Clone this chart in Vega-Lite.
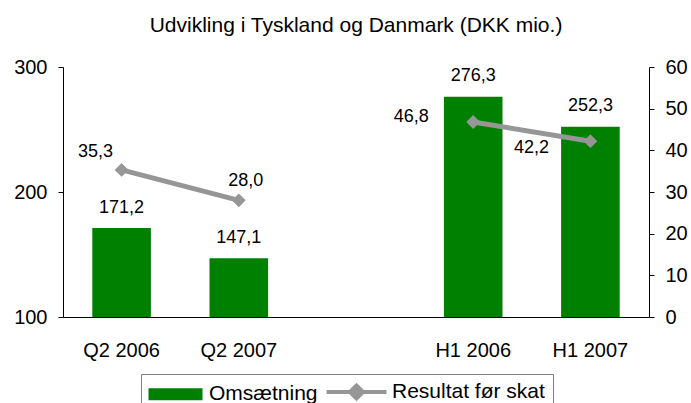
{
  "$schema": "https://vega.github.io/schema/vega-lite/v6.json",
  "width": 586,
  "height": 250,
  "autosize": {"type": "none"},
  "padding": {"left": 63, "top": 67, "right": 42, "bottom": 86},
  "config": {
    "font": "Liberation Sans",
    "view": {"stroke": null},
    "locale": {"number": {"decimal": ",", "thousands": ".", "grouping": [3], "currency": ["", " kr."]}},
    "axis": {"domainColor": "#000", "tickColor": "#000", "labelColor": "#000", "labelFontSize": 20, "grid": false, "title": null, "tickSize": 5, "labelPadding": 11, "domainWidth": 1, "tickWidth": 1}
  },
  "title": {"text": "Udvikling i Tyskland og Danmark (DKK mio.)", "fontSize": 21, "fontWeight": "normal", "color": "#000", "anchor": "middle", "offset": 4, "baseline": "alphabetic"},
  "data": {"values": [
    {"periode": "Q2 2006", "gruppe": "Q2", "omsaetning": 171.2, "resultat": 35.3},
    {"periode": "Q2 2007", "gruppe": "Q2", "omsaetning": 147.1, "resultat": 28.0},
    {"periode": "H1 2006", "gruppe": "H1", "omsaetning": 276.3, "resultat": 46.8},
    {"periode": "H1 2007", "gruppe": "H1", "omsaetning": 252.3, "resultat": 42.2}
  ]},
  "encoding": {
    "x": {"field": "periode", "type": "nominal", "sort": null,
      "scale": {"domain": ["Q2 2006", "Q2 2007", " ", "H1 2006", "H1 2007"], "paddingInner": 0.5, "paddingOuter": 0.25},
      "axis": {"labelAngle": 0, "ticks": false, "tickSize": 0, "labelPadding": 23, "labelFontSize": 20}}
  },
  "layer": [
    {"layer": [
      {"mark": {"type": "bar"},
       "encoding": {
         "y": {"field": "omsaetning", "type": "quantitative", "scale": {"domain": [100, 300], "zero": false, "nice": false}, "axis": {"orient": "left", "values": [100, 200, 300]}},
         "y2": {"datum": 100},
         "color": {"datum": "Omsætning", "type": "nominal",
           "scale": {"domain": ["Omsætning", "Resultat før skat"], "range": ["#008000", "#969696"]},
           "legend": {"title": null, "orient": "none", "legendX": 78, "legendY": 307, "direction": "horizontal",
             "symbolSize": 400, "symbolStrokeWidth": 0, "labelFontSize": 21, "labelColor": "#000", "labelOffset": 39.5,
             "labelLimit": 300, "columnPadding": 0, "padding": 7.5, "strokeColor": "#808080", "fillColor": "#ffffff", "labelBaseline": "middle",
             "encode": {"symbols": {"update": {
               "shape": {"signal": "datum.value === 'Omsætning' ? 'M-1.05,-0.6H4.35V0.6H-1.05Z' : 'M-1.55,0H4.45M0.8,0L1.45,-0.65L2.1,0L1.45,0.65Z'"},
               "fill": {"signal": "datum.value === 'Omsætning' ? '#008000' : '#969696'"},
               "stroke": {"value": "#969696"},
               "strokeWidth": {"signal": "datum.value === 'Omsætning' ? 0 : 4"},
               "opacity": {"value": 1}
             }}}}}
       }},
      {"mark": {"type": "text", "dy": -15.5, "baseline": "alphabetic", "fontSize": 18, "color": "#000"},
       "encoding": {"y": {"field": "omsaetning", "type": "quantitative"}, "text": {"field": "omsaetning", "type": "quantitative", "format": ".1f"}}}
    ]},
    {"layer": [
      {"mark": {"type": "line", "color": "#969696", "strokeWidth": 5},
       "encoding": {
         "y": {"field": "resultat", "type": "quantitative", "scale": {"domain": [0, 60], "nice": false}, "axis": {"orient": "right", "values": [0, 10, 20, 30, 40, 50, 60]}},
         "detail": {"field": "gruppe"}}},
      {"mark": {"type": "point", "shape": "diamond", "filled": true, "size": 190, "color": "#969696", "opacity": 1},
       "encoding": {"y": {"field": "resultat", "type": "quantitative"}}},
      {"transform": [{"filter": "datum.periode === 'Q2 2006'"}],
       "mark": {"type": "text", "dx": -26, "dy": -12.7, "baseline": "alphabetic", "fontSize": 18, "color": "#000"},
       "encoding": {"y": {"field": "resultat", "type": "quantitative"}, "text": {"field": "resultat", "type": "quantitative", "format": ".1f"}}},
      {"transform": [{"filter": "datum.periode === 'Q2 2007'"}],
       "mark": {"type": "text", "dx": 7, "dy": -14.6, "baseline": "alphabetic", "fontSize": 18, "color": "#000"},
       "encoding": {"y": {"field": "resultat", "type": "quantitative"}, "text": {"field": "resultat", "type": "quantitative", "format": ".1f"}}},
      {"transform": [{"filter": "datum.periode === 'H1 2006'"}],
       "mark": {"type": "text", "dx": -62, "dy": 0, "baseline": "alphabetic", "fontSize": 18, "color": "#000"},
       "encoding": {"y": {"field": "resultat", "type": "quantitative"}, "text": {"field": "resultat", "type": "quantitative", "format": ".1f"}}},
      {"transform": [{"filter": "datum.periode === 'H1 2007'"}],
       "mark": {"type": "text", "dx": -59, "dy": 12, "baseline": "alphabetic", "fontSize": 18, "color": "#000"},
       "encoding": {"y": {"field": "resultat", "type": "quantitative"}, "text": {"field": "resultat", "type": "quantitative", "format": ".1f"}}}
    ]}
  ],
  "resolve": {"scale": {"y": "independent"}}
}
